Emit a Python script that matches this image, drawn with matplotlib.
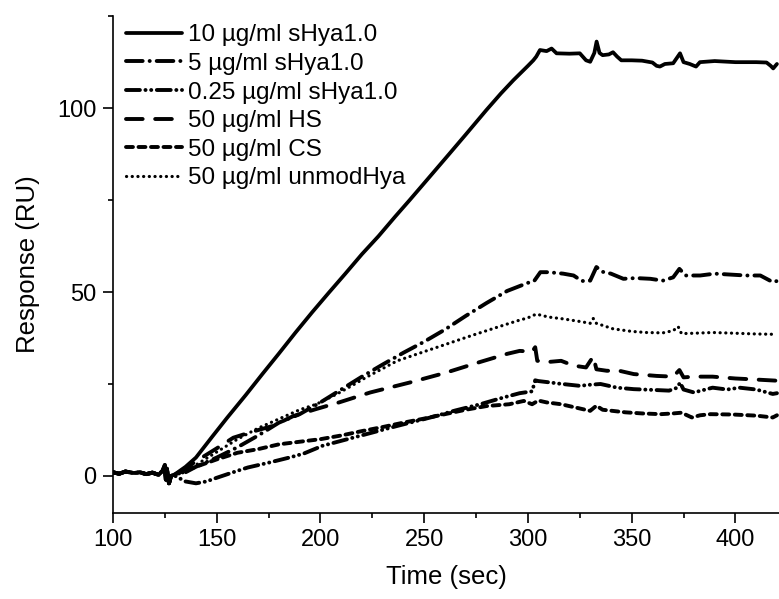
import matplotlib
matplotlib.use("Agg")
import matplotlib.pyplot as plt
from matplotlib.ticker import MultipleLocator

plt.rcParams['font.family'] = ['Liberation Sans', 'DejaVu Sans']
plt.rcParams['lines.scale_dashes'] = False

# shared baseline before injection (all curves overlap here)
t_base = [100, 103, 106, 110, 113, 116, 119, 122, 124, 125, 125.5, 126, 127, 128]
r_base = [1.0, 0.6, 1.2, 0.8, 1.0, 0.5, 0.9, 0.3, 1.5, 3.0, -1.0, 2.0, -2.0, 0.0]

# 10 ug/ml sHya1.0
t_10 = [130, 135, 140, 148, 155, 164, 172, 180, 188, 196, 204, 212, 220, 228, 236,
        243, 250, 262, 270, 280, 287, 293, 300, 302.6, 304, 305.8, 309, 311.4, 313.8,
        320, 325, 328, 330, 332, 333.1, 334.5, 336, 339, 341, 343, 345, 350, 355, 360,
        362, 363.6, 366, 370, 373.3, 375, 378, 381, 382.9, 390, 400, 410, 415, 417,
        418.2, 420]
r_10 = [0.5, 2.5, 5.0, 10.8, 15.8, 22.0, 27.7, 33.3, 39.0, 44.5, 49.8, 55.0, 60.3,
        65.2, 70.5, 75.0, 79.6, 87.5, 92.8, 99.5, 104.0, 107.6, 111.5, 113.0, 114.0,
        115.8, 115.5, 116.2, 114.9, 114.8, 114.9, 113.0, 112.6, 115.0, 118.1, 115.0,
        114.4, 114.6, 115.2, 114.0, 113.0, 113.0, 112.9, 112.4, 111.5, 111.3, 112.0,
        112.2, 114.9, 112.5, 112.0, 111.3, 112.5, 112.8, 112.5, 112.5, 112.4, 111.5,
        110.8, 112.0]

# 5 ug/ml sHya1.0
t_5 = [130, 135, 140, 150, 160, 170, 180, 190, 200, 210, 220, 230, 240, 250, 260,
       270, 280, 290, 300, 303, 306, 310, 317, 322, 326, 330, 333, 336, 340, 346, 352,
       359, 365, 370, 373, 376, 383, 390, 399, 405, 412, 418, 420]
r_5 = [0.5, 1.0, 2.5, 5.0, 7.8, 11.0, 14.5, 16.8, 20.0, 23.5, 27.0, 30.3, 33.5, 36.5,
       39.8, 43.5, 47.0, 50.3, 52.5, 53.0, 55.4, 55.4, 55.0, 54.5, 53.0, 53.1, 56.8,
       55.5, 55.0, 53.6, 53.8, 53.6, 53.1, 54.0, 56.3, 54.5, 54.5, 55.0, 54.7, 54.5,
       54.5, 52.7, 53.0]

# 0.25 ug/ml sHya1.0
t_025 = [130, 135, 140, 145, 150, 160, 165, 175, 185, 192, 201, 213, 225, 237, 253,
         265, 277, 288, 296, 302, 303.5, 305, 311, 315, 325, 330, 335, 343, 351, 360,
         368, 372, 373.3, 375, 380, 389, 396, 402, 410, 418, 420]
r_025 = [0.0, -1.5, -2.0, -1.5, -0.5, 1.4, 2.3, 3.6, 5.0, 6.1, 8.2, 10.0, 11.8, 13.6,
         15.9, 17.8, 19.5, 21.3, 22.5, 23.0, 26.0, 25.8, 25.4, 25.1, 24.5, 24.8, 25.0,
         24.0, 23.6, 23.4, 23.2, 24.0, 25.4, 23.5, 22.7, 24.0, 23.5, 24.0, 23.5, 22.3,
         22.5]

# 50 ug/ml HS
t_hs = [130, 135, 140, 150, 158, 167, 177, 187, 198, 209, 224, 243, 260, 277, 290,
        296, 302, 303.5, 304.5, 310, 316, 322, 328, 331.5, 333, 338, 344, 351, 362, 370,
        373, 375, 380, 389, 400, 407, 420]
r_hs = [0.5, 2.0, 4.0, 7.5, 10.4, 12.0, 13.6, 16.3, 18.2, 20.0, 22.7, 25.4, 28.0, 31.0,
        33.2, 34.0, 33.8, 35.0, 31.3, 31.0, 31.3, 30.0, 29.5, 32.5, 29.0, 28.6, 28.6,
        27.7, 27.2, 27.0, 28.8, 26.8, 27.0, 27.0, 26.5, 26.3, 25.9]

# 50 ug/ml CS
t_cs = [130, 140, 150, 160, 170, 180, 190, 200, 210, 220, 230, 240, 250, 260, 270, 280,
        291, 298, 302, 305, 309, 316, 323, 330, 333, 336, 347, 355, 364, 370, 374, 379,
        383, 388, 399, 410, 418, 420]
r_cs = [0.5, 2.5, 4.5, 6.3, 7.3, 8.6, 9.3, 10.0, 11.0, 12.2, 13.3, 14.5, 15.6, 16.8,
        18.0, 19.0, 19.5, 20.4, 19.5, 20.5, 20.0, 19.5, 18.6, 17.7, 19.1, 18.0, 17.3,
        17.0, 16.8, 17.0, 17.2, 15.9, 16.5, 16.8, 16.7, 16.4, 15.9, 16.5]

# 50 ug/ml unmodHya
t_un = [130, 135, 140, 150, 160, 170, 180, 190, 198, 208, 215, 222, 237, 250, 261, 273,
        285, 295, 300, 304, 310, 317, 325, 330, 331.5, 333, 341, 350, 357, 365, 370,
        372.4, 374, 380, 389, 400, 410, 420]
r_un = [0.5, 1.0, 3.0, 6.5, 10.0, 13.0, 15.5, 18.0, 19.5, 22.3, 24.5, 26.8, 31.3, 33.8,
        35.9, 38.2, 40.4, 42.2, 43.0, 44.0, 43.2, 42.7, 42.0, 41.5, 42.8, 41.5, 40.0,
        39.3, 39.0, 38.9, 39.5, 40.6, 38.7, 38.8, 39.0, 38.8, 38.6, 38.5]

labels = ["10 µg/ml sHya1.0", "5 µg/ml sHya1.0", "0.25 µg/ml sHya1.0",
          "50 µg/ml HS", "50 µg/ml CS", "50 µg/ml unmodHya"]

series = [(t_10, r_10), (t_5, r_5), (t_025, r_025), (t_hs, r_hs), (t_cs, r_cs), (t_un, r_un)]
styles = ['-',
          (0, (12, 5, 0.1, 5)),
          (0, (10, 4, 0.1, 4, 0.1, 4)),
          (0, (12, 9)),
          (0, (5, 4)),
          (0, (0.1, 4))]
widths = [2.7, 2.8, 2.8, 2.8, 2.8, 2.3]

fig = plt.figure(figsize=(7.79, 5.99), dpi=100)
ax = fig.add_axes([0.145, 0.144, 0.855, 0.829])

for (t, r), ls, lw, lab in zip(series, styles, widths, labels):
    ax.plot(t_base + t, r_base + r, color='black', linestyle=ls, linewidth=lw,
            dash_capstyle='round', solid_capstyle='round', label=lab)

ax.set_xlim(100, 421)
ax.set_ylim(-10, 125)
ax.xaxis.set_major_locator(MultipleLocator(50))
ax.xaxis.set_minor_locator(MultipleLocator(25))
ax.yaxis.set_major_locator(MultipleLocator(50))
ax.yaxis.set_minor_locator(MultipleLocator(25))
ax.tick_params(which='major', direction='out', length=7, width=1.2, labelsize=17, pad=5)
ax.tick_params(which='minor', direction='out', length=3.6, width=1.2)
for s in ['top', 'right']:
    ax.spines[s].set_visible(False)
for s in ['left', 'bottom']:
    ax.spines[s].set_linewidth(1.2)

ax.set_xlabel("Time (sec)", fontsize=18.5, labelpad=10)
ax.set_ylabel("Response (RU)", fontsize=18.5, labelpad=12)

ax.legend(loc='upper left', bbox_to_anchor=(0.0045, 1.003), frameon=False, fontsize=17.5,
          handlelength=2.3, handletextpad=0.25, labelspacing=0.27, borderaxespad=0)

fig.savefig("out.png", dpi=100)
